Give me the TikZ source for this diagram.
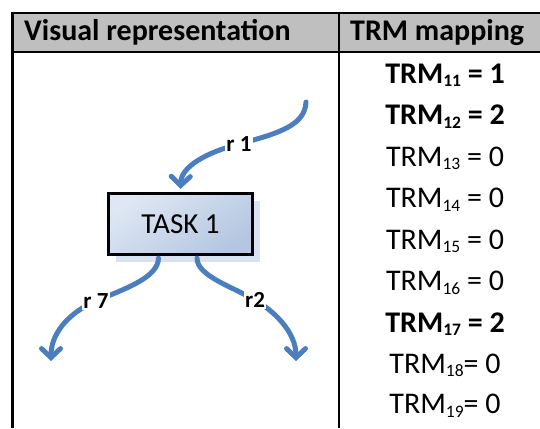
\documentclass[tikz,border=0pt]{standalone}
\usepackage{fontspec}
\setmainfont{Carlito}
\usetikzlibrary{arrows.meta,shadows}

\definecolor{headgray}{RGB}{191,191,191}
\definecolor{flowblue}{RGB}{74,126,191}
\definecolor{boxlight}{RGB}{222,231,243}
\definecolor{boxdark}{RGB}{180,198,225}
\definecolor{shadowblue}{RGB}{216,226,241}

% subscript index for the TRM entries
\newcommand\trmidx[1]{\raisebox{-3.8pt}{\fontsize{17.5}{17.5}\selectfont #1}}

\tikzset{
  rule/.style={line width=2.6pt},
  headtext/.style={anchor=base west, font=\fontsize{30}{30}\selectfont\bfseries, inner sep=0pt},
  entry/.style={anchor=base, font=\fontsize{30}{30}\selectfont, inner sep=0pt},
  entrybold/.style={entry, font=\fontsize{30}{30}\selectfont\bfseries},
  taskbox/.style={draw=black, line width=3.2pt, minimum width=144pt, minimum height=61pt,
    top color=boxlight, bottom color=boxdark, shading angle=35,
    font=\fontsize{29}{29}\selectfont,
    drop shadow={shadow xshift=7.5pt, shadow yshift=-7pt, fill=shadowblue, opacity=1, draw=none}},
  flow/.style={draw=flowblue, line width=5pt, line cap=round,
    -{Straight Barb[length=9pt, width=19pt, line cap=round]}},
  flowlabel/.style={fill=white, inner sep=1.5pt, font=\fontsize{23}{23}\selectfont\bfseries}
}

\begin{document}
\begin{tikzpicture}[x=1pt, y=-1pt]
  \useasboundingbox (0,0) rectangle (540,428);

  % table header and grid
  \fill[headgray] (12.5,13) rectangle (540,52);
  \draw[rule] (12.5,13) -- (540,13);
  \draw[rule] (12.5,52) -- (540,52);
  \draw[rule] (12.5,11.7) -- (12.5,428);
  \draw[rule] (339,11.7) -- (339,428);
  \node[headtext] (hvis) at (24,40.5) {Visual representation};
  \node[headtext] (htrm) at (350,40.5) {TRM mapping};

  % TRM mapping column
  \node[entrybold] (m11) at (445,83)    {TRM\trmidx{11} = 1};
  \node[entrybold] (m12) at (445,124.5) {TRM\trmidx{12} = 2};
  \node[entry]     (m13) at (445,166)   {TRM\trmidx{13} = 0};
  \node[entry]     (m14) at (445,207.5) {TRM\trmidx{14} = 0};
  \node[entry]     (m15) at (445,249)   {TRM\trmidx{15} = 0};
  \node[entry]     (m16) at (445,290.5) {TRM\trmidx{16} = 0};
  \node[entrybold] (m17) at (445,332)   {TRM\trmidx{17} = 2};
  \node[entry]     (m18) at (445,373)   {TRM\trmidx{18}= 0};
  \node[entry]     (m19) at (445,413.5) {TRM\trmidx{19}= 0};

  % task node
  \node[taskbox] (task) at (180.5,224) {TASK 1};

  % incoming flow r 1
  \coordinate (r1src) at (306,102);
  \coordinate (r1mid) at (239,144);
  \draw[flow] (r1src) .. controls (305,125) and (280,133) .. (r1mid)
              .. controls (208,152) and (181,166) .. ([yshift=3pt]task.north);
  \node[flowlabel] (l1) at (r1mid) {r 1};

  % outgoing flow r 7
  \coordinate (r7mid) at (96,301);
  \coordinate (r7dst) at (51,361);
  \draw[flow] ([xshift=-22pt,yshift=-2pt]task.south) .. controls (158,278) and (124,289) .. (r7mid)
              .. controls (74,310) and (51,330) .. (r7dst);
  \node[flowlabel] (l7) at (r7mid) {r 7};

  % outgoing flow r2
  \coordinate (r2mid) at (255,300);
  \coordinate (r2dst) at (296,361);
  \draw[flow] ([xshift=16.5pt,yshift=-2pt]task.south) .. controls (197,276) and (233,287) .. (r2mid)
              .. controls (274,311) and (296,332) .. (r2dst);
  \node[flowlabel] (l2) at (r2mid) {r2};
\end{tikzpicture}
\end{document}
